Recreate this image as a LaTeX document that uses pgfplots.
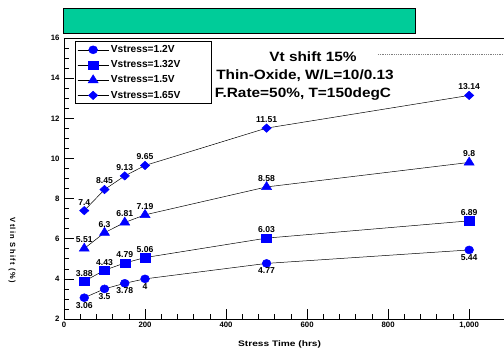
\documentclass[border=0pt]{standalone}
\usepackage{pgfplots}
\pgfplotsset{compat=1.18}
\usepackage{fontspec}
\setmainfont{Liberation Sans}
\newfontfamily\widefont{Liberation Sans}[FakeStretch=1.14]
\newfontfamily\xlabfont{Liberation Sans}[FakeStretch=1.27]
\definecolor{vblue}{RGB}{0,0,255}
\definecolor{vgreen}{RGB}{0,204,153}
\begin{document}
\begin{tikzpicture}
\begin{axis}[
  at={(0,0)}, anchor=south west,
  scale only axis, width=440pt, height=281pt,
  xmin=0, xmax=1086, ymin=2, ymax=16,
  axis x line*=box, axis y line*=left,
  xtick={0,200,400,600,800,1000}, ytick={2,4,...,16},
  minor x tick num=4, minor y tick num=3,
  xtick pos=bottom, ytick pos=left,
  tick align=inside,
  major tick length=10pt, minor tick length=5pt,
  tick style={black, line width=0.6pt},
  axis line style={line width=0.8pt},
  /pgf/number format/assume math mode=true,
  ticklabel style={font=\fontsize{7.8}{8}\selectfont\bfseries},
  xticklabel style={yshift=0pt},
  yticklabel style={xshift=-1pt},
  xlabel={Stress Time (hrs)},
  xlabel style={font=\xlabfont\fontsize{8}{9}\selectfont\bfseries, at={(rel axis cs:0.49,0)}, anchor=center, yshift=-25pt},
  ylabel={\addfontfeatures{LetterSpace=18}Vtlin Shift (\%)},
  ylabel style={font=\fontsize{7.5}{8}\selectfont\bfseries, at={(rel axis cs:-0.118,0.245)}, anchor=center, rotate=180},
  legend style={at={(rel axis cs:0.025,0.989)}, anchor=north west, draw=black, line width=0.8pt,
    font=\fontsize{10.2}{11}\selectfont\bfseries, row sep=2.6pt, inner sep=2pt,
    nodes={text width=97pt, align=left},
    legend cell align=left},
  legend image code/.code={\draw[black, line width=0.5pt] (0pt,0pt) -- (31pt,0pt);
     \draw[mark repeat=2, mark phase=2, #1] plot coordinates {(0pt,0pt) (15.5pt,0pt) (31pt,0pt)};},
  every axis plot/.append style={black, line width=0.5pt},
  nodes near coords,
  point meta=explicit symbolic,
  every node near coord/.append style={font=\fontsize{8.6}{9}\selectfont\bfseries, text=black},
  clip=false,
]
\addplot[mark=*, mark options={vblue, fill=vblue, draw=vblue, xscale=2.2, yscale=2.0},
  every node near coord/.append style={anchor=north, yshift=-1pt}]
  table[meta=l] {
x y l
50 3.06 3.06
100 3.5 3.5
150 3.78 3.78
200 4 4
500 4.77 4.77
1000 5.44 5.44
};
\addlegendentry{Vstress=1.2V}
\addplot[mark=square*, mark options={vblue, fill=vblue, draw=vblue, xscale=2.5, yscale=2.1},
  every node near coord/.append style={anchor=south, yshift=1.5pt}]
  table[meta=l] {
x y l
50 3.88 3.88
100 4.43 4.43
150 4.79 4.79
200 5.06 5.06
500 6.03 6.03
1000 6.89 6.89
};
\addlegendentry{Vstress=1.32V}
\addplot[mark=triangle*, mark options={vblue, fill=vblue, draw=vblue, xscale=2.9, yscale=2.7},
  every node near coord/.append style={anchor=south, yshift=2pt}]
  table[meta=l] {
x y l
50 5.51 5.51
100 6.3 6.3
150 6.81 6.81
200 7.19 7.19
500 8.58 8.58
1000 9.8 9.8
};
\addlegendentry{Vstress=1.5V}
\addplot[mark=diamond*, mark options={vblue, fill=vblue, draw=vblue, xscale=3.1, yscale=2.1},
  every node near coord/.append style={anchor=south, yshift=2pt}]
  table[meta=l] {
x y l
50 7.4 7.4
100 8.45 8.45
150 9.13 9.13
200 9.65 9.65
500 11.51 11.51
1000 13.14 13.14
};
\addlegendentry{Vstress=1.65V}
\draw[gray, densely dotted, line width=0.8pt] (axis cs:775,15.18) -- (axis cs:1086,15.18);
\end{axis}
\draw[black, line width=0.8pt, fill=vgreen] (-1pt,286pt) rectangle (351pt,311pt);
\begin{scope}[every node/.style={font=\widefont\fontsize{13.5}{19}\selectfont\bfseries}]
\node at (249pt,262pt) {Vt shift 15\%};
\node at (241pt,243pt) {Thin-Oxide, W/L=10/0.13};
\node at (239pt,225pt) {F.Rate=50\%, T=150degC};
\end{scope}
\pgfresetboundingbox
\path (-64pt,-32pt) rectangle (440pt,319pt);
\end{tikzpicture}
\end{document}
